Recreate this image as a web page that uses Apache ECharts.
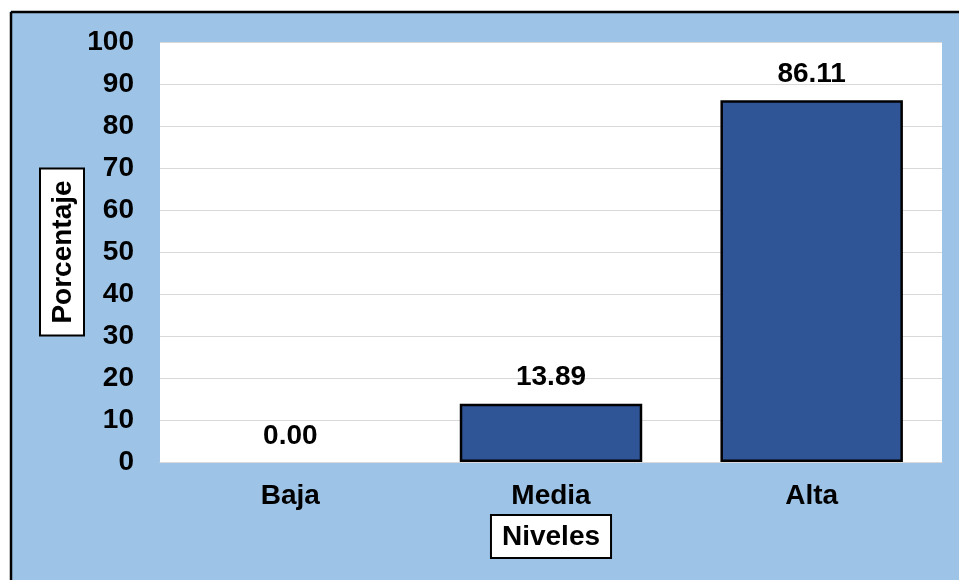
<!DOCTYPE html>
<html>
<head>
<meta charset="utf-8">
<script src="https://cdn.jsdelivr.net/npm/echarts@6/dist/echarts.min.js"></script>
<style>html,body{margin:0;padding:0;background:#fff}#c{width:959px;height:580px}</style>
</head>
<body>
<div id="c"></div>
<script>
const categories = ['Baja', 'Media', 'Alta'];
const values = [0.00, 13.89, 86.11];
const yTicks = { min: 0, max: 100, interval: 10 };
const xTitle = 'Niveles';
const yTitle = 'Porcentaje';

const FONT = '"Liberation Sans", Arial, sans-serif';
const FS = 28;
const chart = echarts.init(document.getElementById('c'));
chart.setOption({
  backgroundColor: '#9DC3E6',
  animation: false,
  graphic: [
    { type: 'rect', shape: { x: 0, y: 0, width: 959, height: 11 }, style: { fill: '#fff' }, silent: true },
    { type: 'rect', shape: { x: 0, y: 0, width: 10, height: 580 }, style: { fill: '#fff' }, silent: true },
    { type: 'line', shape: { x1: 11, y1: 12, x2: 959, y2: 12 }, style: { stroke: '#000', lineWidth: 2.5 }, silent: true },
    { type: 'line', shape: { x1: 11, y1: 12, x2: 11, y2: 580 }, style: { stroke: '#000', lineWidth: 2.5 }, silent: true }
  ],
  grid: { left: 160, right: 17, top: 42, bottom: 118, show: true, backgroundColor: '#fff', borderWidth: 0 },
  xAxis: {
    type: 'category',
    data: categories,
    axisLine: { show: true, lineStyle: { color: '#D9D9D9', width: 1 } },
    axisTick: { show: false },
    axisLabel: { color: '#000', fontFamily: FONT, fontWeight: 'bold', fontSize: FS, margin: 20 },
    name: xTitle,
    nameLocation: 'middle',
    nameGap: 54,
    nameMoveOverlap: false,
    nameTextStyle: {
      color: '#000', fontFamily: FONT, fontWeight: 'bold', fontSize: FS,
      backgroundColor: '#fff', borderColor: '#000', borderWidth: 2, padding: [7, 10, 6, 10]
    }
  },
  yAxis: {
    type: 'value',
    min: yTicks.min, max: yTicks.max, interval: yTicks.interval,
    axisLine: { show: false },
    axisTick: { show: false },
    splitLine: { lineStyle: { color: '#D9D9D9', width: 1 } },
    axisLabel: { color: '#000', fontFamily: FONT, fontWeight: 'bold', fontSize: FS, margin: 26 },
    name: yTitle,
    nameLocation: 'middle',
    nameGap: 77,
    nameMoveOverlap: false,
    nameTextStyle: {
      color: '#000', fontFamily: FONT, fontWeight: 'bold', fontSize: FS,
      backgroundColor: '#fff', borderColor: '#000', borderWidth: 2, padding: [8, 11, 6, 11]
    }
  },
  series: [{
    type: 'bar',
    data: values.map(v => ({ value: v, itemStyle: v === 0 ? { borderWidth: 0 } : {} })),
    barCategoryGap: '30%',
    itemStyle: { color: '#2F5597', borderColor: '#000', borderWidth: 2.5 },
    label: {
      show: true, position: 'top', distance: 12,
      formatter: p => p.value.toFixed(2),
      color: '#000', fontFamily: FONT, fontWeight: 'bold', fontSize: FS
    }
  }]
});
</script>
</body>
</html>
